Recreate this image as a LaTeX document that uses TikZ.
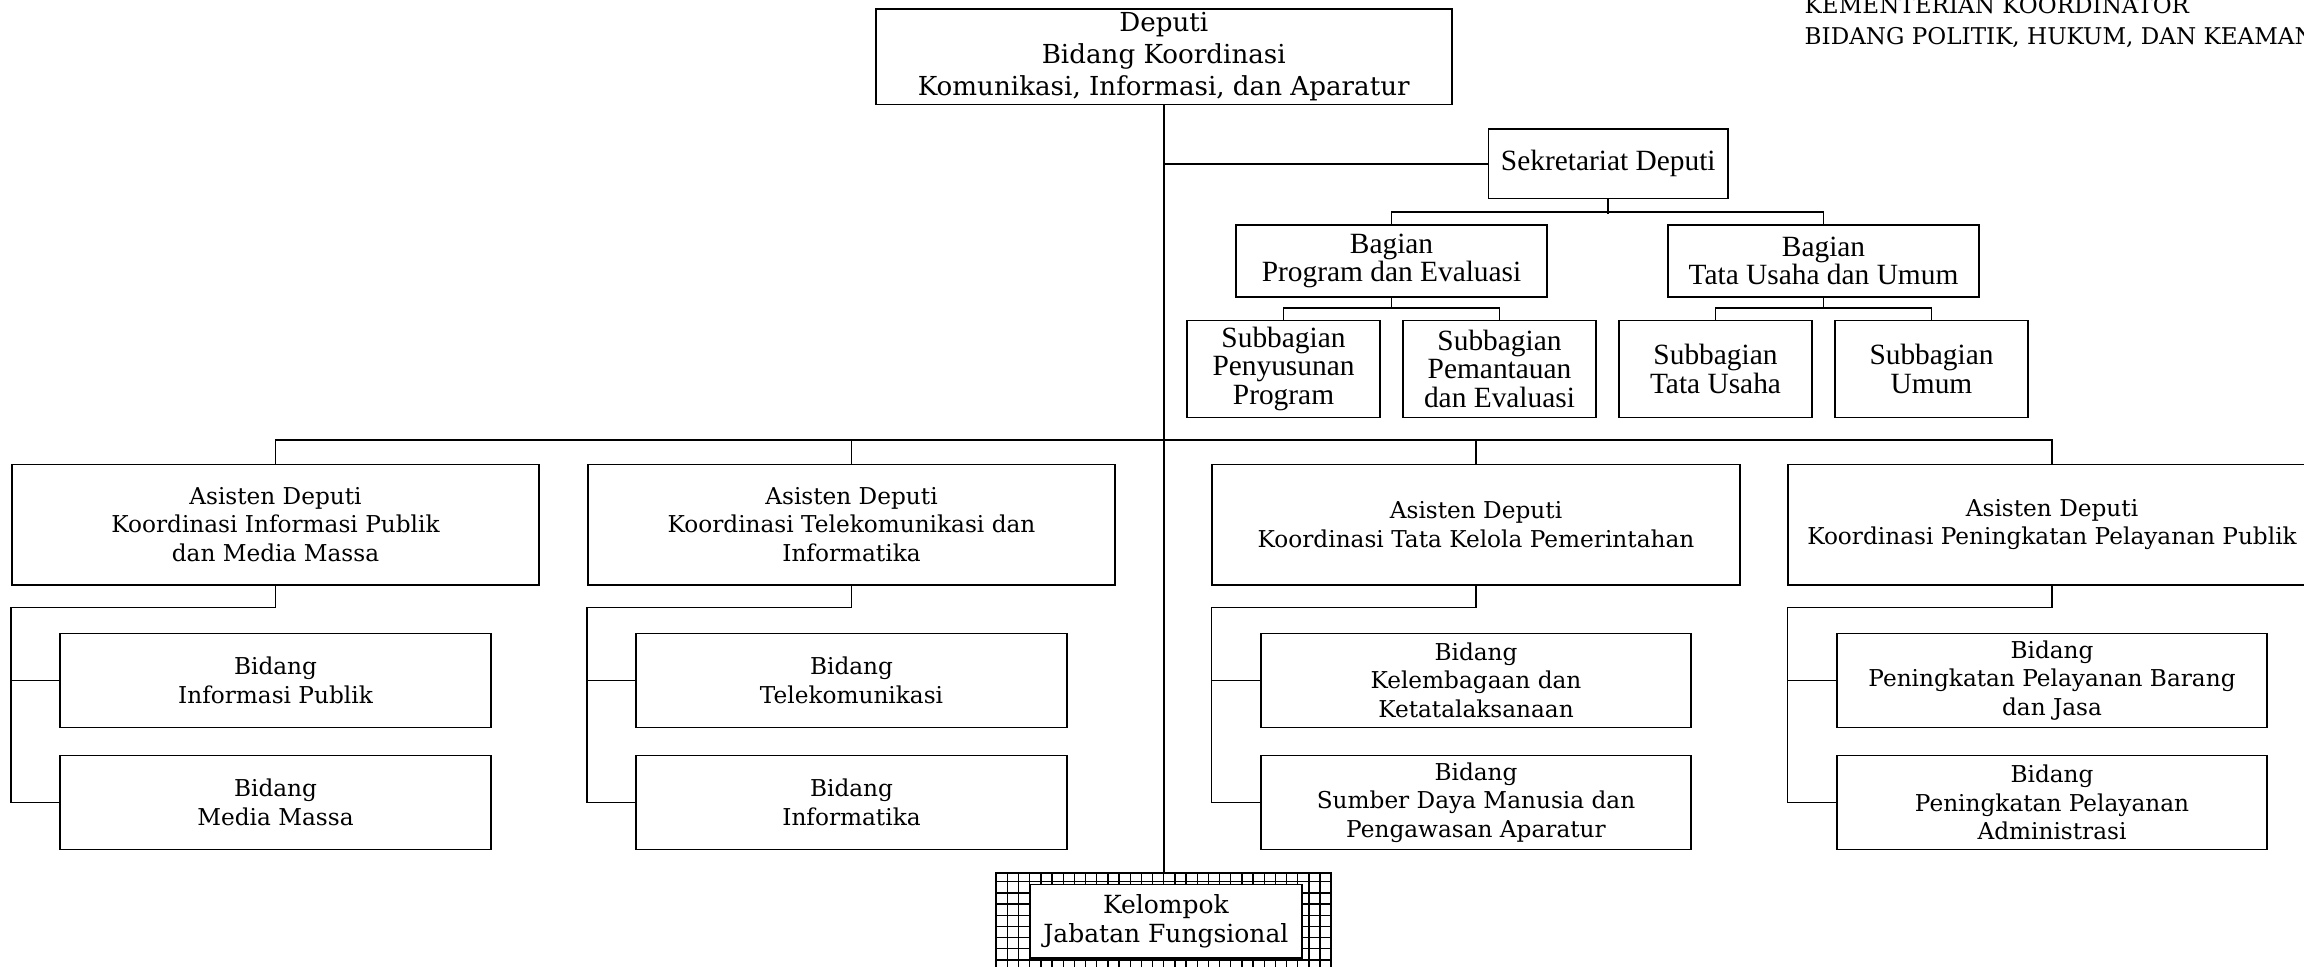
\documentclass[tikz,border=0pt]{standalone}
\usepackage{fontspec}
\setmainfont{DejaVu Serif}
\newfontfamily\sekfont{Liberation Serif}
\usetikzlibrary{positioning}

\tikzset{
  unit/.style={draw, line width=1.1pt, inner sep=0pt, align=center, fill=white,
    font=\fontsize{15.8pt}{19.5pt}\selectfont},
  deputibox/.style={unit, minimum width=392pt, minimum height=65pt,
    font=\fontsize{17.8pt}{21.5pt}\selectfont},
  sekbox/.style={unit, font=\sekfont\fontsize{20pt}{19.5pt}\selectfont},
  asdepbox/.style={unit, minimum width=359pt, minimum height=82pt},
  bidangbox/.style={unit, minimum width=293pt, minimum height=64pt},
  link/.style={line width=1.1pt}
}

\begin{document}
\begin{tikzpicture}[x=1pt, y=-1pt]
  \useasboundingbox (0,0) rectangle (1568,658);

  % Kementerian title
  \node[inner sep=0pt, anchor=base west, font=\fontsize{15.7pt}{19.5pt}\selectfont] (kemtitle) at (1228,9) {KEMENTERIAN KOORDINATOR};
  \node[inner sep=0pt, anchor=base west, font=\fontsize{15.7pt}{19.5pt}\selectfont] (bidtitle) at (1228,30) {BIDANG POLITIK, HUKUM, DAN KEAMANAN};

  % Deputi and sekretariat
  \node[deputibox] (dep) at (792,38.5) {Deputi\\Bidang Koordinasi\\Komunikasi, Informasi, dan Aparatur};
  \node[sekbox, minimum width=163pt, minimum height=47pt] (sek) at (1094.5,111.5) {Sekretariat Deputi};
  \node[sekbox, minimum width=212pt, minimum height=49pt] (bagpe) at (947,177.5) {Bagian\\Program dan Evaluasi};
  \node[sekbox, minimum width=212pt, minimum height=49pt] (bagtu) at (1241,177.5) {Bagian\\Tata Usaha dan Umum};
  \node[sekbox, minimum width=131pt, minimum height=66pt] (sub1) at (873.5,251) {Subbagian\\Penyusunan\\Program};
  \node[sekbox, minimum width=131pt, minimum height=66pt] (sub2) at (1020.5,251) {Subbagian\\Pemantauan\\dan Evaluasi};
  \node[sekbox, minimum width=131pt, minimum height=66pt] (sub3) at (1167.5,251) {Subbagian\\Tata Usaha};
  \node[sekbox, minimum width=131pt, minimum height=66pt] (sub4) at (1314.5,251) {Subbagian\\Umum};

  % Asisten deputi
  \node[asdepbox] (as1) at (187.5,357) {Asisten Deputi\\Koordinasi Informasi Publik\\dan Media Massa};
  \node[asdepbox] (as2) at (579.5,357) {Asisten Deputi\\Koordinasi Telekomunikasi dan\\Informatika};
  \node[asdepbox] (as3) at (1004.5,357) {Asisten Deputi\\Koordinasi Tata Kelola Pemerintahan};
  \node[asdepbox] (as4) at (1396.5,357) {Asisten Deputi\\Koordinasi Peningkatan Pelayanan Publik};

  % Bidang
  \node[bidangbox] (bida1) at (187.5,463) {Bidang\\Informasi Publik};
  \node[bidangbox, below=18pt of bida1] (bidb1) {Bidang\\Media Massa};
  \node[bidangbox] (bida2) at (579.5,463) {Bidang\\Telekomunikasi};
  \node[bidangbox, below=18pt of bida2] (bidb2) {Bidang\\Informatika};
  \node[bidangbox] (bida3) at (1004.5,463) {Bidang\\Kelembagaan dan\\Ketatalaksanaan};
  \node[bidangbox, below=18pt of bida3] (bidb3) {Bidang\\Sumber Daya Manusia dan\\Pengawasan Aparatur};
  \node[bidangbox] (bida4) at (1396.5,463) {Bidang\\Peningkatan Pelayanan Barang\\dan Jasa};
  \node[bidangbox, below=18pt of bida4] (bidb4) {Bidang\\Peningkatan Pelayanan\\Administrasi};

  % Kelompok jabatan fungsional
  \node[draw, line width=1.1pt, minimum width=228pt, minimum height=73pt,
    path picture={\draw[line width=0.9pt] (path picture bounding box.south west)
      grid[step=7.6pt] (path picture bounding box.north east);}] (kelgrid) at (792,630.5) {};
  \node[unit, minimum width=185pt, minimum height=50pt, font=\fontsize{17pt}{20pt}\selectfont] (kel) at (793.5,627) {Kelompok\\Jabatan Fungsional};

  % Connect the units
  \draw[link] (dep.south) -- (kelgrid.north);
  \draw[link] (dep.south |- sek.west) -- (sek.west);
  \draw[link] (sek.south) -- ++(0,10);
  \draw[link] (bagpe.north) -- ++(0,-8) -| (bagtu.north);
  \draw[link] (bagpe.south) -- ++(0,8);
  \draw[link] (sub1.north) -- ++(0,-8) -| (sub2.north);
  \draw[link] (bagtu.south) -- ++(0,8);
  \draw[link] (sub3.north) -- ++(0,-8) -| (sub4.north);
  \draw[link] (as1.north) -- ++(0,-16) -| (as4.north);
  \draw[link] (as2.north) -- ++(0,-16);
  \draw[link] (as3.north) -- ++(0,-16);
  \foreach \i in {1,...,4} {
    \draw[link] (as\i.south) -- ++(0,15) -| (as\i.west |- bidb\i.west) -- (bidb\i.west);
    \draw[link] (as\i.west |- bida\i.west) -- (bida\i.west);
  }
\end{tikzpicture}
\end{document}
